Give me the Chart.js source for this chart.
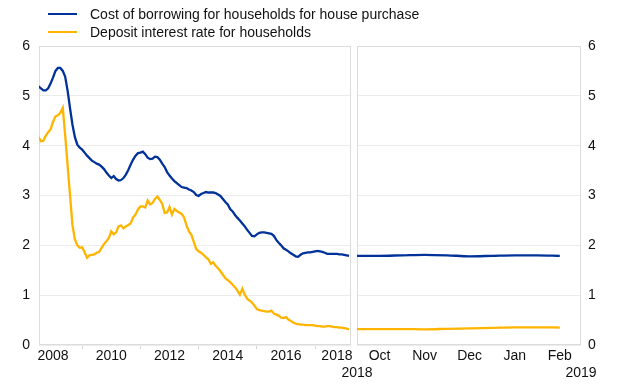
<!DOCTYPE html>
<html>
<head>
<meta charset="utf-8">
<script src="https://cdn.jsdelivr.net/npm/chart.js@4.4.0/dist/chart.umd.min.js"></script>
<style>
  html, body { margin: 0; padding: 0; background: #ffffff; }
  #wrap { position: relative; width: 620px; height: 387px; overflow: hidden;
          font-family: "Liberation Sans", Arial, sans-serif; color: #111111; }
  #c1 { position: absolute; left: 0; top: 0; }
  #c2 { position: absolute; left: 320px; top: 0; }
  .ln { position: absolute; left: 48px; width: 29px; height: 2px; }
  .tx { position: absolute; left: 90px; font-size: 14px; line-height: 16px; white-space: nowrap; }
</style>
</head>
<body>
<div id="wrap">
  <canvas id="c1" width="354" height="387"></canvas>
  <canvas id="c2" width="300" height="387"></canvas>
  <div class="ln" id="ln1" style="top:13px"></div>
  <div class="tx" id="tx1" style="top:6px"></div>
  <div class="ln" id="ln2" style="top:31px"></div>
  <div class="tx" id="tx2" style="top:24px"></div>
</div>
<script>
// ---------------- data ----------------
const seriesNames = ['Cost of borrowing for households for house purchase', 'Deposit interest rate for households'];
const seriesColors = ['#003299', '#ffb400'];

// monthly, January 2008 – September 2018 (percentages per annum)
const borrowingMonthly = [
  5.19,5.15,5.11,5.11,5.15,5.25,5.37,5.50,5.56,5.56,5.50,5.38, // 2008
  5.10,4.75,4.42,4.17,4.02,3.96,3.92,3.86,3.80,3.75,3.70,3.67, // 2009
  3.64,3.62,3.58,3.53,3.46,3.40,3.35,3.39,3.33,3.30,3.31,3.35, // 2010
  3.42,3.51,3.62,3.72,3.80,3.85,3.86,3.88,3.83,3.76,3.73,3.74, // 2011
  3.78,3.77,3.72,3.64,3.57,3.47,3.40,3.34,3.29,3.25,3.21,3.17, // 2012
  3.16,3.15,3.12,3.10,3.07,3.01,2.99,3.03,3.05,3.07,3.06,3.06, // 2013
  3.06,3.05,3.02,2.99,2.93,2.87,2.82,2.73,2.68,2.61,2.55,2.50, // 2014
  2.44,2.38,2.31,2.25,2.19,2.18,2.22,2.25,2.26,2.26,2.25,2.24, // 2015
  2.23,2.19,2.11,2.05,2.00,1.94,1.91,1.88,1.84,1.81,1.78,1.77, // 2016
  1.81,1.84,1.85,1.86,1.86,1.87,1.88,1.89,1.88,1.87,1.85,1.83, // 2017
  1.83,1.83,1.83,1.83,1.82,1.82,1.81,1.80,1.79                 // 2018
];
const depositMonthly = [
  4.17,4.09,4.10,4.20,4.27,4.33,4.48,4.59,4.61,4.66,4.76,4.20, // 2008
  3.60,3.00,2.40,2.12,2.00,1.95,1.96,1.86,1.75,1.80,1.81,1.82, // 2009
  1.85,1.87,1.95,2.03,2.08,2.15,2.28,2.22,2.26,2.38,2.40,2.34, // 2010
  2.38,2.41,2.44,2.56,2.62,2.72,2.78,2.78,2.76,2.90,2.82,2.85, // 2011
  2.93,2.98,2.91,2.83,2.65,2.66,2.77,2.62,2.73,2.69,2.66,2.63, // 2012
  2.56,2.40,2.28,2.21,2.07,1.93,1.88,1.85,1.81,1.76,1.72,1.63, // 2013
  1.66,1.59,1.54,1.48,1.41,1.34,1.30,1.26,1.21,1.16,1.09,1.01, // 2014
  1.13,1.01,0.93,0.89,0.85,0.79,0.72,0.70,0.69,0.68,0.67,0.67, // 2015
  0.69,0.63,0.61,0.59,0.55,0.54,0.56,0.51,0.48,0.45,0.43,0.42, // 2016
  0.41,0.41,0.40,0.40,0.40,0.40,0.39,0.38,0.38,0.37,0.37,0.38, // 2017
  0.38,0.37,0.36,0.36,0.35,0.35,0.34,0.33,0.31                 // 2018
];
// left axis: month index from January 2008
const leftTickMonths = [6, 18, 30, 42, 54, 66, 78, 90, 102, 114, 123];
const leftTickLabels = ['2008', '', '2010', '', '2012', '', '2014', '', '2016', '', '2018'];

// recent period: months since start of October 2018
const recentTime = [-0.5, 0, 0.5, 1, 1.5, 2, 2.5, 3, 3.5, 4];
const borrowingRecent = [1.79, 1.79, 1.80, 1.81, 1.80, 1.78, 1.79, 1.80, 1.80, 1.79];
const depositRecent = [0.32, 0.32, 0.32, 0.315, 0.325, 0.335, 0.345, 0.355, 0.355, 0.35];
const rightTickMonths = [-0.5, 0, 1, 2, 3, 4, 4.47];
const rightTickLabels = [['', '2018'], 'Oct', 'Nov', 'Dec', 'Jan', 'Feb', ['', '2019']];

const yTicks = [0, 1, 2, 3, 4, 5, 6];

// ---------------- legend ----------------
document.getElementById('ln1').style.background = seriesColors[0];
document.getElementById('ln2').style.background = seriesColors[1];
document.getElementById('tx1').textContent = seriesNames[0];
document.getElementById('tx2').textContent = seriesNames[1];

// ---------------- charts ----------------
Chart.defaults.font.family = '"Liberation Sans", Arial, sans-serif';
Chart.defaults.font.size = 14;
Chart.defaults.color = '#111111';

const gridColor = '#ececec';
const boxColor = '#dcdcdc';

const boxPlugin = {
  id: 'panelBox',
  beforeDatasetsDraw(chart) {
    const a = chart.chartArea, ctx = chart.ctx;
    ctx.save();
    ctx.strokeStyle = boxColor;
    ctx.lineWidth = 1;
    ctx.strokeRect(Math.round(a.left) + 0.5, Math.round(a.top) + 0.5,
                   Math.round(a.right - a.left) - 1, Math.round(a.bottom - a.top) - 1);
    ctx.restore();
  }
};

function lineDs(name, color, xs, ys, smooth) {
  return {
    label: name,
    data: ys.map((v, i) => ({ x: xs[i], y: v })),
    borderColor: color,
    backgroundColor: color,
    borderWidth: 2.3,
    pointRadius: 0,
    tension: smooth ? 0.4 : 0,
    cubicInterpolationMode: smooth ? 'monotone' : 'default',
    fill: false
  };
}

function yAxis(position, padding) {
  return {
    type: 'linear', position: position, min: 0, max: 6,
    afterBuildTicks: s => { s.ticks = yTicks.map(v => ({ value: v })); },
    afterFit: s => { s.width = 39; },
    grid: { color: gridColor, drawTicks: false, lineWidth: 1 },
    border: { display: false },
    ticks: { padding: padding, callback: v => String(v) }
  };
}

const leftMonths = borrowingMonthly.map((_, i) => i);

new Chart(document.getElementById('c1'), {
  type: 'line',
  data: {
    datasets: [
      lineDs(seriesNames[0], seriesColors[0], leftMonths, borrowingMonthly, false),
      lineDs(seriesNames[1], seriesColors[1], leftMonths, depositMonthly, false)
    ]
  },
  options: {
    responsive: false, animation: false,
    layout: { padding: { left: 0, right: 3, top: 46, bottom: 0 } },
    plugins: { legend: { display: false }, tooltip: { enabled: false } },
    scales: {
      x: {
        type: 'linear', min: 0.2, max: 128.8,
        afterBuildTicks: s => { s.ticks = leftTickMonths.map(v => ({ value: v })); },
        afterFit: s => { s.height = 42; s.paddingLeft = 0; s.paddingRight = 0; },
        grid: {
          drawOnChartArea: false, tickLength: 4,
          color: c => (leftTickLabels[c.index] === '' ? '#d4d4d4' : 'rgba(0,0,0,0)')
        },
        border: { display: false },
        ticks: { autoSkip: false, maxRotation: 0, padding: -1,
                 callback: (v, i) => leftTickLabels[i] }
      },
      y: yAxis('left', 9)
    }
  },
  plugins: [boxPlugin]
});

new Chart(document.getElementById('c2'), {
  type: 'line',
  data: {
    datasets: [
      lineDs(seriesNames[0], seriesColors[0], recentTime, borrowingRecent, true),
      lineDs(seriesNames[1], seriesColors[1], recentTime, depositRecent, true)
    ]
  },
  options: {
    responsive: false, animation: false,
    layout: { padding: { left: 37, right: 0, top: 46, bottom: 0 } },
    plugins: { legend: { display: false }, tooltip: { enabled: false } },
    scales: {
      x: {
        type: 'linear', min: -0.5, max: 4.47,
        afterBuildTicks: s => { s.ticks = rightTickMonths.map(v => ({ value: v })); },
        afterFit: s => { s.height = 42; s.paddingLeft = 0; s.paddingRight = 0; },
        grid: { display: false, drawTicks: false, drawOnChartArea: false },
        border: { display: false },
        ticks: { autoSkip: false, maxRotation: 0, padding: 3,
                 callback: (v, i) => rightTickLabels[i] }
      },
      y: yAxis('right', 7)
    }
  },
  plugins: [boxPlugin]
});
</script>
</body>
</html>
